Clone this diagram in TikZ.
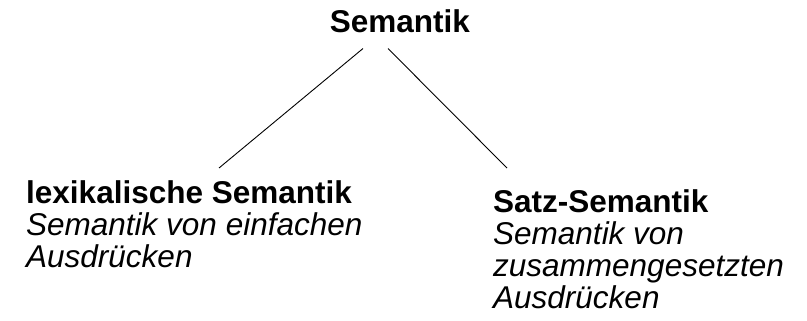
\documentclass[tikz,border=0pt]{standalone}
\usepackage{fontspec}
\setmainfont{Liberation Sans}
\usetikzlibrary{positioning}
\tikzset{
	label text/.style = {inner sep = 0pt, align = left, font = \fontsize{31.5}{32}\selectfont},
	branch/.style = {draw = black, line width = 0.9pt}
}

\begin{document}
\begin{tikzpicture}[x = 1pt, y = 1pt]

					\useasboundingbox (0,0) rectangle (807,-321);

					\node[label text, anchor = base] (semantik) at (400,-33) {\textbf{Semantik}};

					% base of a node of several lines is its last line
					\node[label text, anchor = base west] (lexikalisch) at (26,-267)
						{\textbf{lexikalische Semantik}\\ \textit{Semantik von einfachen}\\ \textit{Ausdrücken}};

					\node[label text, anchor = base west] (satz) at (493,-308)
						{\textbf{Satz-Semantik}\\ \textit{Semantik von}\\ \textit{zusammengesetzten}\\ \textit{Ausdrücken}};

					\draw[branch] ([xshift = -37pt, yshift = -15pt]semantik.south) -- ([xshift = 193pt, yshift = 99pt]lexikalisch.base west);
					\draw[branch] ([xshift = -12pt, yshift = -15pt]semantik.south) -- ([xshift = 14pt, yshift = 140pt]satz.base west);

				\end{tikzpicture}
\end{document}
